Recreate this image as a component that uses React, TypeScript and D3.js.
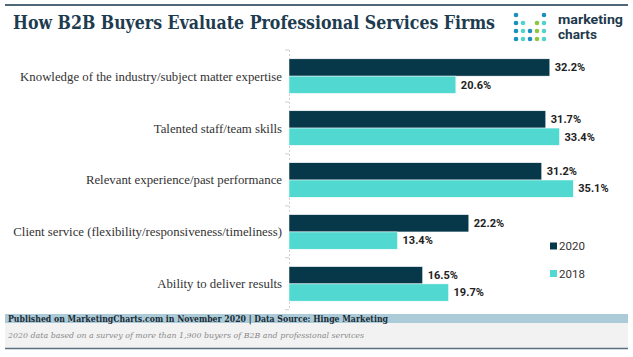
import React from "react";
import * as d3 from "d3";

const categories = [
  "Knowledge of the industry/subject matter expertise",
  "Talented staff/team skills",
  "Relevant experience/past performance",
  "Client service (flexibility/responsiveness/timeliness)",
  "Ability to deliver results",
];
const seriesNames = ["2020", "2018"];
const values2020 = [32.2, 31.7, 31.2, 22.2, 16.5];
const values2018 = [20.6, 33.4, 35.1, 13.4, 19.7];
const colors = ["#06384a", "#51d8d0"];

const title = "How B2B Buyers Evaluate Professional Services Firms";
const footer1 = "Published on MarketingCharts.com in November 2020 | Data Source: Hinge Marketing";
const footer2 = "2020 data based on a survey of more than 1,900 buyers of B2B and professional services";

const W = 633;
const H = 357;

export default function App() {
  const x = d3.scaleLinear().domain([0, 40]).range([289, 289 + 324]);
  const y = d3
    .scaleBand<string>()
    .domain(categories)
    .range([50, 310])
    .paddingInner(0.335)
    .paddingOuter(0.17);
  const inner = d3
    .scaleBand<string>()
    .domain(seriesNames)
    .range([0, y.bandwidth()]);
  const data = [values2020, values2018];

  const logoRows = [
    [1, 0, 0, 0, 1],
    [1, 1, 0, 1, 1],
    [1, 1, 1, 1, 1],
    [1, 1, 1, 1, 1],
  ];
  const logoCols = ["#1b8fbf", "#4fd3cb", "#1b8fbf", "#8cc63f", "#4fd3cb"];

  return (
    <svg width={W} height={H} style={{ display: "block", position: "absolute", left: 0, top: 0 }}>
      <rect x={0} y={0} width={W} height={H} fill="#ffffff" />
      <line x1={5} x2={628} y1={5} y2={5} stroke="#4e6878" strokeWidth={2} />
      <text
        x={13}
        y={28.5}
        fontFamily="'DejaVu Serif', serif"
        fontWeight={700}
        fontSize={18}
        fill="#1d3c4f"
        textLength={482}
        lengthAdjust="spacingAndGlyphs"
      >
        {title}
      </text>
      {/* logo */}
      {logoRows.map((row, r) =>
        row.map((v, c) =>
          v ? (
            <circle
              key={`d${r}-${c}`}
              cx={516 + c * 7}
              cy={15 + r * 8}
              r={2.3}
              fill={r === 0 || c === 0 ? "#1b8fbf" : logoCols[c]}
            />
          ) : null
        )
      )}
      <text x={558} y={24} fontFamily="Roboto, sans-serif" fontWeight={700} fontSize={13.5} fill="#1e3a4c" textLength={65} lengthAdjust="spacingAndGlyphs">
        marketing
      </text>
      <text x={558} y={38.5} fontFamily="Roboto, sans-serif" fontWeight={700} fontSize={13.5} fill="#1e3a4c" textLength={39} lengthAdjust="spacingAndGlyphs">
        charts
      </text>

      {/* axis line */}
      <line x1={289.5} x2={289.5} y1={50} y2={310} stroke="#d0d0d0" strokeWidth={1} strokeDasharray="2,2" />
      {d3.range(categories.length + 1).map((i) => {
        const yy = 50 + i * y.step();
        return <line key={`t${i}`} x1={285} x2={289} y1={yy} y2={yy} stroke="#d0d0d0" strokeWidth={1} />;
      })}

      {categories.map((cat, i) => (
        <g key={cat}>
          <text
            x={282}
            y={(y(cat) as number) + y.bandwidth() / 2}
            dy="0.35em"
            textAnchor="end"
            fontFamily="'Liberation Serif', serif"
            fontSize={12.8}
            fill="#333333"
          >
            {cat}
          </text>
          {seriesNames.map((s, si) => {
            const v = data[si][i];
            const by = (y(cat) as number) + (inner(s) as number);
            return (
              <g key={s}>
                <rect
                  x={x(0)}
                  y={by}
                  width={x(v) - x(0)}
                  height={inner.bandwidth()}
                  fill={colors[si]}
                  stroke="#ffffff"
                  strokeWidth={0.5}
                />
                <text
                  x={x(v) + 5}
                  y={by + inner.bandwidth() / 2}
                  dy="0.35em"
                  fontFamily="Roboto, sans-serif"
                  fontWeight={700}
                  fontSize={11}
                  fill="#222222"
                >
                  {v.toFixed(1)}%
                </text>
              </g>
            );
          })}
        </g>
      ))}

      {/* legend */}
      {seriesNames.map((s, si) => (
        <g key={`lg${s}`}>
          <rect x={550} y={242.5 + si * 27.5} width={7} height={7} fill={colors[si]} />
          <text x={559} y={246 + si * 27.5} dy="0.35em" fontFamily="Roboto, sans-serif" fontSize={11.5} fill="#333333">
            {s}
          </text>
        </g>
      ))}

      {/* footer */}
      <rect x={5} y={314} width={623} height={9} fill="#abcbd9" />
      <rect x={5} y={323} width={623} height={25} fill="#f2f2f2" />
      <line x1={5} x2={628} y1={348.5} y2={348.5} stroke="#5a7080" strokeWidth={1.5} />
      <text x={8} y={321.5} fontFamily="'DejaVu Serif', serif" fontWeight={700} fontSize={9} fill="#1d2a33" textLength={380} lengthAdjust="spacingAndGlyphs">
        {footer1}
      </text>
      <text x={8} y={338} fontFamily="'DejaVu Serif', serif" fontStyle="italic" fontSize={8} fill="#8a8a8a" textLength={356} lengthAdjust="spacingAndGlyphs">
        {footer2}
      </text>
    </svg>
  );
}
